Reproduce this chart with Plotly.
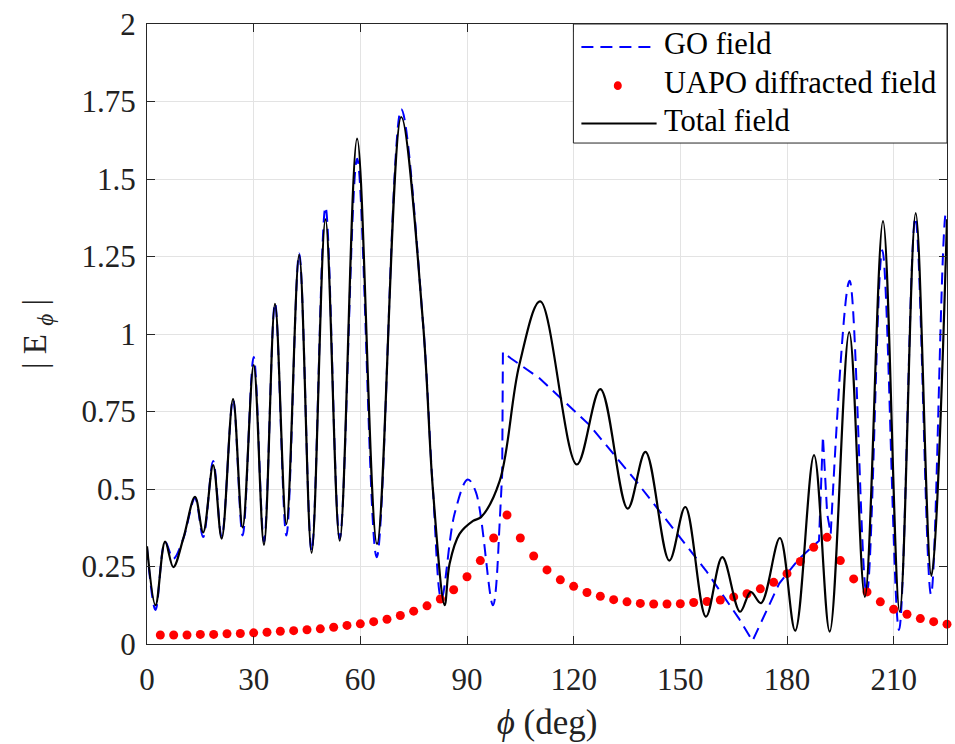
import plotly.graph_objects as go

# ---------------- data ----------------
# Total field (black solid): key points along the curve
total_x = [0, 2.4, 5.1, 7.4, 10.2, 13.5, 15.8, 18.6, 21.0, 24.2, 26.9, 30.0, 32.9,
           36.0, 39.2, 42.8, 46.3, 50.2, 54.2, 59.1, 64.7, 71.5, 77.6, 80.4, 83.7,
           85.1, 87.9, 91.7, 94.0, 99.2, 104.7, 110.6, 120.9, 127.5, 135.2, 140.2,
           146.9, 151.4, 157.2, 161.8, 166.8, 169.8, 172.7, 178.0, 182.3, 187.6,
           192.0, 197.5, 201.9, 207.0, 211.7, 216.2, 220.6, 225.0]
total_y = [0.315, 0.125, 0.33, 0.248, 0.34, 0.475, 0.36, 0.577, 0.34, 0.79, 0.376, 0.90, 0.32,
           1.097, 0.387, 1.255, 0.294, 1.37, 0.333, 1.63, 0.323, 1.70, 1.04, 0.50, 0.125,
           0.259, 0.355, 0.397, 0.41, 0.526, 0.90, 1.105, 0.579, 0.822, 0.437, 0.62,
           0.269, 0.442, 0.088, 0.28, 0.104, 0.168, 0.132, 0.342, 0.043, 0.609,
           0.04, 1.006, 0.152, 1.364, 0.104, 1.39, 0.22, 1.37]

# GO field (blue dashed) - oscillating part before the shadow jump
go_a_x = [0, 2.4, 5.1, 7.4, 10.2, 13.5, 15.8, 18.6, 21.0, 24.2, 26.9, 30.0, 32.9,
          36.0, 39.2, 42.8, 46.3, 50.2, 54.2, 59.1, 64.6, 71.5, 77.6, 80.4, 82.8,
          86.5, 90.2, 92.5, 97.3, 99.0]
go_a_y = [0.31, 0.11, 0.33, 0.275, 0.34, 0.47, 0.345, 0.59, 0.345, 0.79, 0.35, 0.926, 0.33,
          1.10, 0.35, 1.26, 0.30, 1.41, 0.34, 1.565, 0.28, 1.725, 1.04, 0.50, 0.146,
          0.42, 0.531, 0.49, 0.125, 0.35]
# GO field - jump and slowly varying part
go_b_x = [99.0, 99.9, 100.1, 102.4, 110.4, 124.4, 137.5, 147.8, 157.2, 166.5, 170.3,
          177.8, 183.4, 189.0, 190.1, 191.3, 192.3]
go_b_y = [0.35, 0.55, 0.942, 0.921, 0.857, 0.707, 0.526, 0.376, 0.237, 0.082, 0.01,
          0.195, 0.275, 0.333, 0.67, 0.42, 0.356]
# GO field - lit-region oscillations at the end
go_c_x = [192.3, 197.6, 202.4, 206.8, 211.5, 216.1, 220.5, 224.8, 225.0]
go_c_y = [0.356, 1.172, 0.16, 1.27, 0.045, 1.375, 0.16, 1.40, 1.40]

# UAPO diffracted field (red dots)
uapo_x = [3.75, 7.5, 11.25, 15, 18.75, 22.5, 26.25, 30, 33.75, 37.5, 41.25, 45,
          48.75, 52.5, 56.25, 60, 63.75, 67.5, 71.25, 75, 78.75, 82.5, 86.25, 90,
          93.75, 97.5, 101.25, 105, 108.75, 112.5, 116.25, 120, 123.75, 127.5, 131.25, 135,
          138.75, 142.5, 146.25, 150, 153.75, 157.5, 161.25, 165, 168.75, 172.5, 176.25, 180,
          183.75, 187.5, 191.25, 195, 198.75, 202.5, 206.25, 210, 213.75, 217.5, 221.25, 225]
uapo_y = [0.029, 0.029, 0.029, 0.031, 0.031, 0.033, 0.034, 0.036, 0.038, 0.041, 0.043, 0.046,
          0.049, 0.054, 0.060, 0.065, 0.072, 0.080, 0.092, 0.106, 0.123, 0.145, 0.175, 0.217,
          0.269, 0.342, 0.416, 0.342, 0.284, 0.239, 0.207, 0.186, 0.166, 0.154, 0.143, 0.136,
          0.131, 0.129, 0.129, 0.130, 0.134, 0.137, 0.142, 0.152, 0.162, 0.178, 0.199, 0.227,
          0.266, 0.312, 0.344, 0.269, 0.21, 0.168, 0.136, 0.112, 0.096, 0.082, 0.072, 0.064]

x_ticks = [0, 30, 60, 90, 120, 150, 180, 210]
y_ticks = [0, 0.25, 0.5, 0.75, 1, 1.25, 1.5, 1.75, 2]
y_tick_text = ["0", "0.25", "0.5", "0.75", "1", "1.25", "1.5", "1.75", "2"]
legend_names = ["GO field", "UAPO diffracted field", "Total field"]

# ---------------- figure ----------------
FONT = "Liberation Serif, Times New Roman, serif"
BLUE = "#0000ff"
RED = "#ff0000"
DASH = "12px,7px"

fig = go.Figure()
fig.add_trace(go.Scatter(x=go_a_x, y=go_a_y, mode="lines", name=legend_names[0],
                         line=dict(color=BLUE, width=2, dash=DASH, shape="spline", smoothing=1.0),
                         showlegend=False))
fig.add_trace(go.Scatter(x=go_b_x, y=go_b_y, mode="lines", name=legend_names[0],
                         line=dict(color=BLUE, width=2, dash=DASH), showlegend=False))
fig.add_trace(go.Scatter(x=go_c_x, y=go_c_y, mode="lines", name=legend_names[0],
                         line=dict(color=BLUE, width=2, dash=DASH, shape="spline", smoothing=1.0),
                         showlegend=False))
fig.add_trace(go.Scatter(x=uapo_x, y=uapo_y, mode="markers", name=legend_names[1],
                         marker=dict(color=RED, size=9), showlegend=False, cliponaxis=False))
fig.add_trace(go.Scatter(x=total_x, y=total_y, mode="lines", name=legend_names[2],
                         line=dict(color="black", width=2.2, shape="spline", smoothing=1.0),
                         showlegend=False))

# manual legend (paper coordinates)
lx0, lx1 = 0.533, 1.0
ly0, ly1 = 0.808, 1.0
fig.add_shape(type="rect", xref="paper", yref="paper", x0=lx0, x1=lx1, y0=ly0, y1=ly1,
              line=dict(color="#262626", width=1), fillcolor="white", layer="above")
rows = [0.963, 0.9006, 0.8397]
fig.add_shape(type="line", xref="paper", yref="paper", x0=0.543, x1=0.637, y0=rows[0], y1=rows[0],
              line=dict(color=BLUE, width=2, dash=DASH), layer="above")
fig.add_shape(type="circle", xref="paper", yref="paper", x0=0.5835, x1=0.5935,
              y0=rows[1] - 0.0072, y1=rows[1] + 0.0072,
              line=dict(color=RED, width=0), fillcolor=RED, layer="above")
fig.add_shape(type="line", xref="paper", yref="paper", x0=0.543, x1=0.637, y0=rows[2], y1=rows[2],
              line=dict(color="black", width=2), layer="above")
for name, ry in zip(legend_names, rows):
    fig.add_annotation(x=0.644, y=ry + 0.004, xref="paper", yref="paper", text=name, showarrow=False,
                       xanchor="left", yanchor="middle",
                       font=dict(family=FONT, size=30.5, color="black"))

axis_common = dict(showline=True, linecolor="#262626", linewidth=1, mirror="ticks",
                   ticks="inside", ticklen=8, tickcolor="#262626", tickwidth=1,
                   showgrid=True, gridcolor="#e3e3e3", gridwidth=1, zeroline=False,
                   tickfont=dict(family=FONT, size=31, color="#222"))

fig.update_layout(
    width=955, height=744,
    margin=dict(l=147, r=7, t=20, b=100),
    paper_bgcolor="white", plot_bgcolor="white",
    xaxis=dict(range=[0, 225], tickvals=x_ticks, ticklabelstandoff=8,
               title=dict(text="<i>ϕ</i> (deg)", font=dict(family=FONT, size=35, color="#222"), standoff=13),
               **axis_common),
    yaxis=dict(range=[0, 2], tickvals=y_ticks, ticktext=y_tick_text, ticklabelstandoff=4,
               title=dict(text="| E <sub><i>ϕ</i></sub> |", font=dict(family=FONT, size=33, color="#222"), standoff=24),
               **axis_common),
)

fig.write_html("out.html")
